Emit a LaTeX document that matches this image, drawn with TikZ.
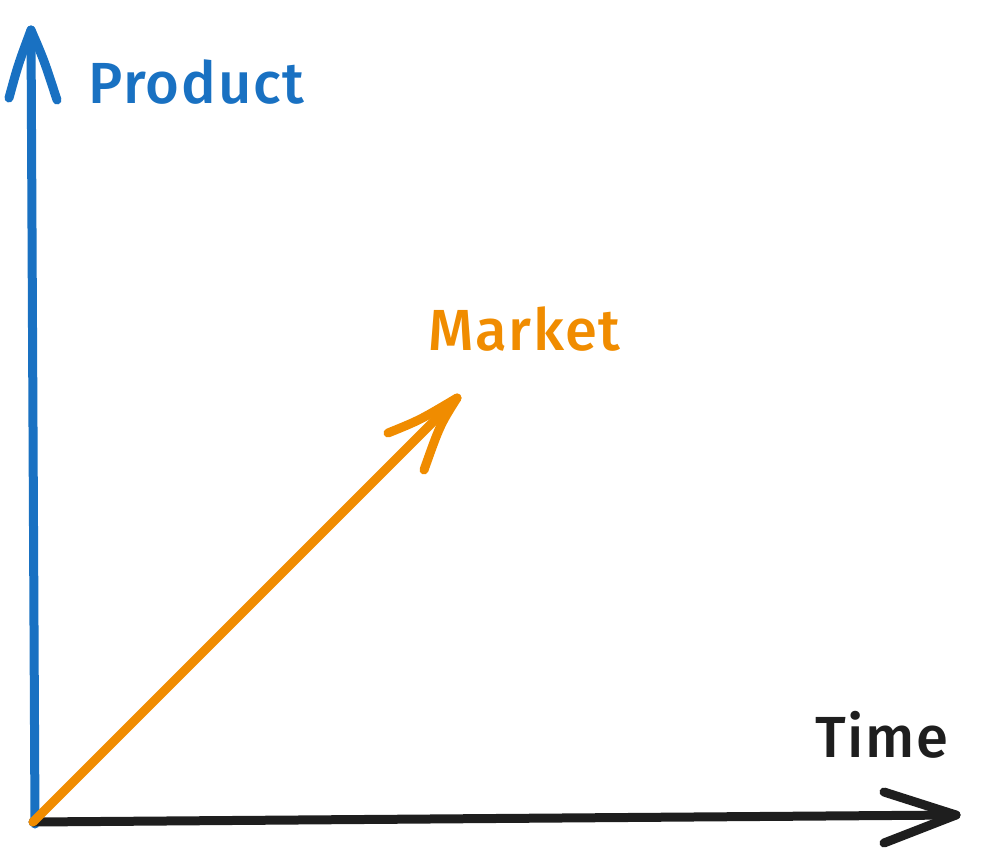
\documentclass[tikz,border=0pt]{standalone}
\usepackage{fontspec}
\setmainfont{Fira Sans Medium}[LetterSpace=3]
\definecolor{xblue}{HTML}{1971C2}
\definecolor{xorange}{HTML}{F08C00}
\definecolor{xblack}{HTML}{1E1E1E}
\begin{document}
\begin{tikzpicture}[x=1pt,y=-1pt,
  axisline/.style={line width=9pt,line cap=round,line join=round},
  lbl/.style={inner sep=0pt,anchor=base west,font=\fontsize{58}{60}\selectfont}]
\useasboundingbox (0,0) rectangle (985,857);
\coordinate (O) at (33,822);
\coordinate (Ob) at (35,824);
% blue vertical axis
\coordinate (ytip) at (31,30);
\coordinate (yw1) at (9,98);
\coordinate (yw2) at (57,100);
\draw[axisline,xblue] (Ob) -- (ytip);
\draw[axisline,xblue] (yw1) .. controls (18,65) .. (ytip) .. controls (44,60) .. (yw2);
% black horizontal axis
\coordinate (xtip) at (956,815);
\coordinate (xw1) at (884,792);
\coordinate (xw2) at (884,843);
\draw[axisline,xblack] (O) -- (xtip);
\draw[axisline,xblack] (xw1) -- (xtip) -- (xw2);
% orange arrow
\coordinate (mtip) at (457,398);
\coordinate (mw1) at (388,433);
\coordinate (mw2) at (424,470);
\draw[axisline,xorange] (O) -- (mtip);
\draw[axisline,xorange] (mw1) .. controls (420,420) .. (mtip) .. controls (440,425) .. (mw2);
% labels
\node[lbl,text=xblue] (product) at (88,103) {Product};
\node[lbl,text=xorange] (market) at (428,350) {Market};
\node[lbl,text=xblack] (time) at (815,757) {Time};
\end{tikzpicture}
\end{document}
